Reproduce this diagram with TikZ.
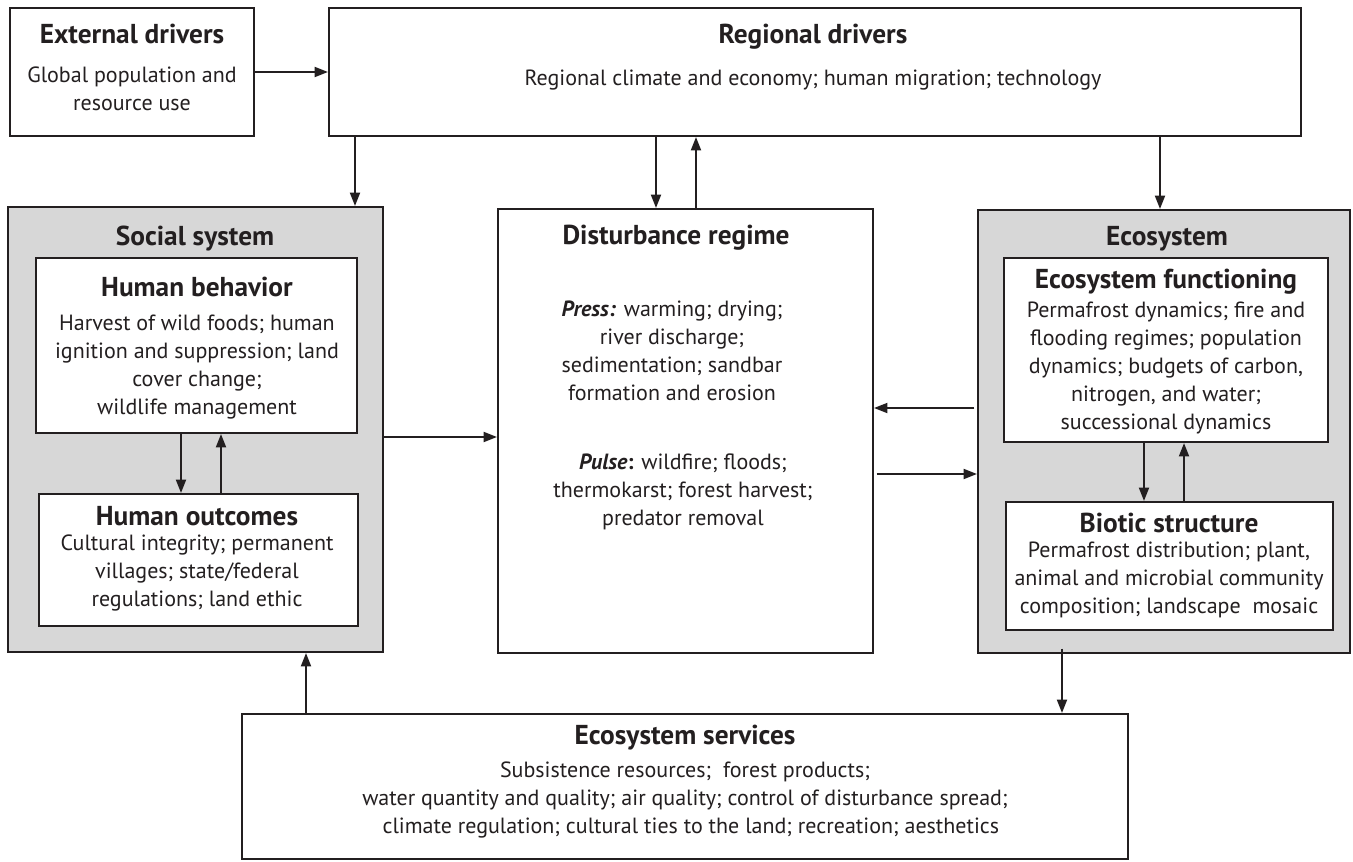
\documentclass[tikz,border=0pt]{standalone}
\usepackage{fontspec}
\setmainfont{PT Sans}
\usepackage{tikz}
\usetikzlibrary{arrows.meta, fit, positioning}

\definecolor{ink}{RGB}{35,31,32}
\definecolor{shade}{RGB}{215,215,215}

\tikzset{
  box/.style={draw=ink, line width=1.6pt, inner sep=0pt, fill=white},
  grbox/.style={box, fill=shade},
  ttl/.style={font=\fontsize{20.5}{24}\selectfont\bfseries, text=ink, inner sep=0pt},
  txt/.style={font=\fontsize{16.5}{21}\selectfont, text=ink, align=center, inner sep=0pt},
  arr/.style={draw=ink, line width=1.4pt, -{Triangle[length=10pt,width=7.5pt]}},
}

\begin{document}
\begin{tikzpicture}[x=0.75pt,y=0.75pt,yscale=-1,xscale=1]
\useasboundingbox (0,0) rectangle (1353,861);

% Boxes
\node[box, fit={(10,8) (254,136)}] (ext) {};
\node[box, fit={(329,8) (1301,136)}] (reg) {};
\node[grbox, fit={(8,207) (383,652)}] (soc) {};
\node[box, fit={(36,258) (357,433)}] (hb) {};
\node[box, fit={(39,494) (358,626)}] (ho) {};
\node[box, fit={(498,209) (873,653)}] (dist) {};
\node[grbox, fit={(978,210) (1350,653)}] (eco) {};
\node[box, fit={(1004,258) (1328,442)}] (ef) {};
\node[box, fit={(1006,502) (1333,630)}] (bs) {};
\node[box, fit={(242,714) (1128,859)}] (serv) {};

% Text Node
\node[ttl] (ext-t) at (132,34) {External drivers};
\node[txt] (ext-b) at (132,89) {Global population and\\resource use};
\node[ttl] (reg-t) at (813,37) {Regional drivers};
\node[txt] (reg-b) at (813,80) {Regional climate and economy; human migration; technology};

\node[ttl] (soc-t) at (195,239) {Social system};
\node[ttl] (hb-t) at (197,287) {Human behavior};
\node[txt] (hb-b) at (197,367) {Harvest of wild foods; human\\ignition and suppression; land\\cover change;\\wildlife management};
\node[ttl] (ho-t) at (197,516) {Human outcomes};
\node[txt] (ho-b) at (197,573) {Cultural integrity; permanent\\villages; state/federal\\regulations; land ethic};

\node[ttl] (dist-t) at (676,238) {Disturbance regime};
\node[txt] (press) at (672,351) {\textbf{\textit{Press:}} warming; drying;\\river discharge;\\sedimentation; sandbar\\formation and erosion};
\node[txt] (pulse) at (683,492) {\textbf{\textit{Pulse}:} wildfire; floods;\\thermokarst; forest harvest;\\predator removal};

\node[ttl] (eco-t) at (1167,239) {Ecosystem};
\node[ttl] (ef-t) at (1166,282) {Ecosystem functioning};
\node[txt] (ef-b) at (1166,368) {Permafrost dynamics; fire and\\flooding regimes; population\\dynamics; budgets of carbon,\\nitrogen, and water;\\successional dynamics};
\node[ttl] (bs-t) at (1169,523) {Biotic structure};
\node[txt] (bs-b) at (1169,580) {Permafrost distribution; plant,\\animal and microbial community\\composition; landscape\ \ mosaic};

\node[ttl] (serv-t) at (685,738) {Ecosystem services};
\node[txt] (serv-b) at (685,800) {Subsistence resources;\ \ forest products;\\water quantity and quality; air quality; control of disturbance spread;\\\ \ climate regulation; cultural ties to the land; recreation; aesthetics};

% Arrows
\draw[arr] (ext.east) -- (ext.east -| reg.west);
\draw[arr] (reg.south -| 355,0) -- (soc.north -| 355,0);
\draw[arr] (reg.south -| 656,0) -- (dist.north -| 656,0);
\draw[arr] (dist.north -| 696,0) -- (reg.south -| 696,0);
\draw[arr] (reg.south -| 1160,0) -- (eco.north -| 1160,0);
\draw[arr] (hb.south -| 181,0) -- (ho.north -| 181,0);
\draw[arr] (ho.north -| 221,0) -- (hb.south -| 221,0);
\draw[arr] (soc.east |- 0,437) -- (dist.west |- 0,437);
\draw[arr] ([xshift=-2pt]eco.west |- 0,408) -- (dist.east |- 0,408);
\draw[arr] ([xshift=2pt]dist.east |- 0,474) -- (eco.west |- 0,474);
\draw[arr] (ef.south -| 1144,0) -- (bs.north -| 1144,0);
\draw[arr] (bs.north -| 1184,0) -- (ef.south -| 1184,0);
\draw[arr] (serv.north -| 306,0) -- (soc.south -| 306,0);
\draw[arr] ([yshift=-4pt]eco.south -| 1062,0) -- (serv.north -| 1062,0);

\end{tikzpicture}
\end{document}
